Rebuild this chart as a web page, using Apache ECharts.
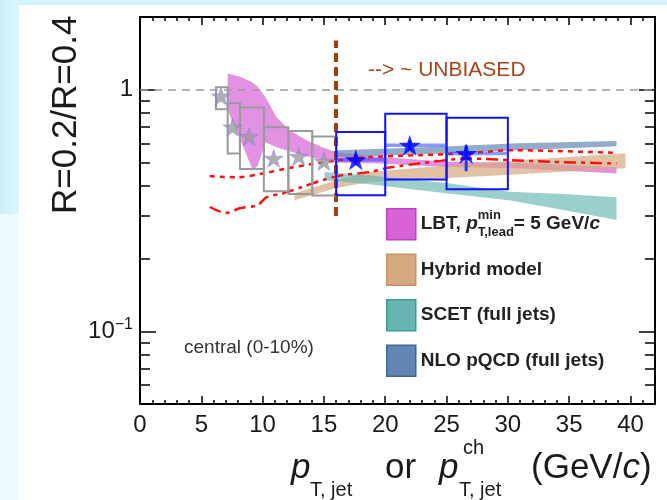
<!DOCTYPE html>
<html><head><meta charset="utf-8">
<script src="https://cdn.jsdelivr.net/npm/echarts@6/dist/echarts.min.js"></script>
<style>html,body{margin:0;padding:0;background:#fff}#c{width:667px;height:500px}</style>
</head><body><div id="c"></div>
<script>
const FONT = '"Liberation Sans", Arial, Helvetica, sans-serif';

// ---- axis ticks ----
const xMajor = [0, 5, 10, 15, 20, 25, 30, 35, 40];
const xMinor = [1,2,3,4,6,7,8,9,11,12,13,14,16,17,18,19,21,22,23,24,26,27,28,29,31,32,33,34,36,37,38,39,41];
const yMajor = [0.1, 1];
const yMinor = [0.06, 0.07, 0.08, 0.09, 0.2, 0.3, 0.4, 0.5, 0.6, 0.7, 0.8, 0.9];

// ---- model bands ----
const lbtX  = [7.15, 8.13, 9.19, 9.59, 10.24, 11.14, 12.2, 13.58, 14.88, 16.02, 19.51, 25.2, 30.89, 38.86];
const lbtLo = [0.822, 0.630, 0.465, 0.483, 0.606, 0.578, 0.556, 0.530, 0.511, 0.499, 0.495, 0.479, 0.473, 0.450];
const lbtHi = [1.167, 1.135, 1.072, 1.032, 0.930, 0.769, 0.679, 0.618, 0.578, 0.551, 0.527, 0.503, 0.497, 0.479];

const hybX  = [12.6, 16.02, 18.7, 25.2, 30.89, 39.59];
const hybLo = [0.349, 0.392, 0.415, 0.431, 0.447, 0.473];
const hybHi = [0.373, 0.422, 0.456, 0.487, 0.511, 0.546];

const scetX  = [15.04, 18.7, 24.96, 30.08, 34.55, 38.86];
const scetLo = [0.422, 0.406, 0.373, 0.349, 0.318, 0.289];
const scetHi = [0.456, 0.443, 0.411, 0.378, 0.370, 0.359];

const nloX  = [16.02, 18.7, 25.2, 30.89, 38.86];
const nloLo = [0.526, 0.530, 0.546, 0.562, 0.584];
const nloHi = [0.562, 0.567, 0.584, 0.600, 0.614];

// ---- red dashed curves ----
const redAX = [5.69, 7.89, 10.0, 11.95, 13.98, 16.26, 18.7, 22.76, 26.83, 30.33, 33.58, 36.34, 38.86];
const redAY = [0.439, 0.434, 0.450, 0.472, 0.492, 0.511, 0.526, 0.536, 0.546, 0.562, 0.558, 0.553, 0.548];
const redBX = [5.69, 6.99, 8.13, 9.59, 10.33, 11.63, 13.25, 14.88, 16.5, 18.7, 20.33, 22.76, 26.83, 30.33, 33.58, 38.86];
const redBY = [0.327, 0.309, 0.323, 0.333, 0.359, 0.372, 0.396, 0.422, 0.443, 0.456, 0.476, 0.495, 0.519, 0.511, 0.503, 0.495];

// ---- charged jets (grey) ----
const chX     = [6.6, 7.55, 8.9, 10.9, 12.95, 15.0];
const chY     = [0.94, 0.70, 0.64, 0.52, 0.53, 0.505];
const chX1    = [6.2, 7.15, 8.15, 10.1, 12.1, 14.05];
const chX2    = [7.15, 8.15, 10.1, 12.1, 14.05, 16.0];
const chSysLo = [0.83, 0.545, 0.47, 0.38, 0.37, 0.365];
const chSysHi = [1.025, 0.88, 0.845, 0.70, 0.675, 0.64];

// ---- full jets (blue) ----
const fjX      = [17.6, 22.0, 26.6];
const fjY      = [0.513, 0.589, 0.544];
const fjX1     = [16, 20, 25];
const fjX2     = [20, 25, 30];
const fjSysLo  = [0.366, 0.425, 0.387];
const fjSysHi  = [0.668, 0.796, 0.766];
const fjStatLo = [0.49, 0.565, 0.46];
const fjStatHi = [0.54, 0.615, 0.589];

const unbiasedX = 16;
const unbiasedRange = [0.3, 1.6];

const STAR = 'path://M50,0 L61.2,34.5 L97.6,34.5 L68.2,55.9 L79.4,90.5 L50,69.1 L20.6,90.5 L31.8,55.9 L2.4,34.5 L38.8,34.5 Z';

function band(name, xs, lo, hi, fill, z) {
  return {
    type: 'custom', name: name, z: z, silent: true, clip: true,
    data: xs.map((x, i) => [x, lo[i], hi[i]]),
    encode: { x: 0, y: [1, 2] },
    renderItem: function (params, api) {
      if (params.dataIndex !== 0) return;
      const pts = [];
      for (let i = 0; i < xs.length; i++) pts.push(api.coord([xs[i], hi[i]]));
      for (let i = xs.length - 1; i >= 0; i--) pts.push(api.coord([xs[i], lo[i]]));
      return { type: 'polygon', shape: { points: pts }, style: { fill: fill } };
    }
  };
}
function boxes(name, x1, x2, lo, hi, stroke, z) {
  return {
    type: 'custom', name: name, z: z, silent: true, clip: true,
    data: x1.map((v, i) => [v, x2[i], lo[i], hi[i]]),
    encode: { x: [0, 1], y: [2, 3] },
    renderItem: function (params, api) {
      const a = api.coord([api.value(0), api.value(3)]);
      const b = api.coord([api.value(1), api.value(2)]);
      return { type: 'rect', shape: { x: a[0], y: a[1], width: b[0] - a[0], height: b[1] - a[1] },
        style: { fill: 'none', stroke: stroke, lineWidth: 2 } };
    }
  };
}

const legendText = {
  'LBT': 'LBT, {it|p}{sup|min}{sub|T,lead}= 5 GeV/{it|c}',
  'Hybrid': 'Hybrid model',
  'SCET': 'SCET (full jets)',
  'NLO': 'NLO pQCD (full jets)'
};

const axisCommonX = { type: 'value', min: 0, max: 42, splitLine: { show: false } };
const axisCommonY = { type: 'log', logBase: 10, min: 0.05, max: 2, splitLine: { show: false } };
const black = { color: '#000', width: 1.5 };
const frameLine = { show: true, onZero: false, lineStyle: { color: '#000', width: 2 } };
const noLine = { show: false, onZero: false };

const option = {
  backgroundColor: '#ffffff',
  animation: false,
  grid: { left: 140, top: 17, width: 515, height: 387 },
  xAxis: [
    Object.assign({}, axisCommonX, { position: 'bottom', axisLine: frameLine,
      axisTick: { show: true, inside: true, length: 8, lineStyle: black, customValues: xMajor },
      axisLabel: { show: true, customValues: xMajor, fontSize: 24, margin: 9, color: '#1a1a1a', fontFamily: FONT } }),
    Object.assign({}, axisCommonX, { position: 'bottom', axisLine: noLine, axisLabel: { show: false },
      axisTick: { show: true, inside: true, length: 4, lineStyle: black, customValues: xMinor } }),
    Object.assign({}, axisCommonX, { position: 'top', axisLine: frameLine, axisLabel: { show: false },
      axisTick: { show: true, inside: true, length: 8, lineStyle: black, customValues: xMajor } }),
    Object.assign({}, axisCommonX, { position: 'top', axisLine: noLine, axisLabel: { show: false },
      axisTick: { show: true, inside: true, length: 4, lineStyle: black, customValues: xMinor } })
  ],
  yAxis: [
    Object.assign({}, axisCommonY, { position: 'left', axisLine: frameLine,
      axisTick: { show: true, inside: true, length: 16, lineStyle: black, customValues: yMajor },
      axisLabel: { show: true, customValues: yMajor, margin: 7, color: '#1a1a1a', fontFamily: FONT, fontSize: 24,
        formatter: function (v) { return v > 0.5 ? '{b|1}' : '{b|10}{s|\u22121}'; },
        rich: { b: { fontSize: 24, lineHeight: 30, fontFamily: FONT, color: '#1a1a1a' },
                s: { fontSize: 16, lineHeight: 16, verticalAlign: 'top', fontFamily: FONT, color: '#1a1a1a' } } } }),
    Object.assign({}, axisCommonY, { position: 'left', axisLine: noLine, axisLabel: { show: false },
      axisTick: { show: true, inside: true, length: 10, lineStyle: black, customValues: yMinor } }),
    Object.assign({}, axisCommonY, { position: 'right', axisLine: frameLine, axisLabel: { show: false },
      axisTick: { show: true, inside: true, length: 16, lineStyle: black, customValues: yMajor } }),
    Object.assign({}, axisCommonY, { position: 'right', axisLine: noLine, axisLabel: { show: false },
      axisTick: { show: true, inside: true, length: 10, lineStyle: black, customValues: yMinor } })
  ],
  legend: {
    left: 386, top: 208, orient: 'vertical', icon: 'rect', itemWidth: 29, itemHeight: 31, itemGap: 13,
    padding: 0, selectedMode: false,
    data: [
      { name: 'LBT', itemStyle: { color: '#d862d8', borderColor: '#c23fc6', borderWidth: 1.5 } },
      { name: 'Hybrid', itemStyle: { color: '#d6a880', borderColor: '#c8915f', borderWidth: 1.5 } },
      { name: 'SCET', itemStyle: { color: '#66b5b0', borderColor: '#3c9d97', borderWidth: 1.5 } },
      { name: 'NLO', itemStyle: { color: '#6286b3', borderColor: '#3f679c', borderWidth: 1.5 } }
    ],
    formatter: function (n) { return legendText[n]; },
    textStyle: { fontSize: 19, fontWeight: 'bold', color: '#222', fontFamily: FONT, lineHeight: 30,
      rich: {
        it: { fontSize: 19, fontWeight: 'bold', fontStyle: 'italic', lineHeight: 30, color: '#222', fontFamily: FONT },
        sup: { fontSize: 13, fontWeight: 'bold', lineHeight: 15, verticalAlign: 'top', width: 0, color: '#222', fontFamily: FONT },
        sub: { fontSize: 13, fontWeight: 'bold', lineHeight: 13, verticalAlign: 'bottom', color: '#222', fontFamily: FONT }
      } }
  },
  graphic: [
    { type: 'rect', z: -100, silent: true, shape: { x: 0, y: 0, width: 667, height: 5 }, style: { fill: '#d3f2fa' } },
    { type: 'rect', z: -100, silent: true, shape: { x: 0, y: 0, width: 19, height: 214 },
      style: { fill: { type: 'linear', x: 0, y: 0, x2: 1, y2: 0, colorStops: [
        { offset: 0, color: '#cdeff8' }, { offset: 1, color: '#dcf5fb' }] } } },
    { type: 'rect', z: -100, silent: true, shape: { x: 0, y: 214, width: 19, height: 286 }, style: { fill: '#eefafd' } },
    { type: 'text', x: 66, y: 214, rotation: Math.PI / 2,
      style: { text: 'R=0.2/R=0.4', font: '35px ' + FONT, fill: '#1a1a1a', align: 'left', verticalAlign: 'middle' } },
    { type: 'text', x: 368, y: 70,
      style: { text: '--> ~ UNBIASED', font: '21px ' + FONT, fill: '#a8441c', align: 'left', verticalAlign: 'middle' } },
    { type: 'text', x: 184, y: 348,
      style: { text: 'central (0-10%)', font: '19px ' + FONT, fill: '#333', align: 'left', verticalAlign: 'middle' } },
    { type: 'text', x: 291, y: 468, style: { text: 'p', font: 'italic 35px ' + FONT, fill: '#1a1a1a', verticalAlign: 'middle' } },
    { type: 'text', x: 310, y: 490, style: { text: 'T, jet', font: '20px ' + FONT, fill: '#1a1a1a', verticalAlign: 'middle' } },
    { type: 'text', x: 385, y: 468, style: { text: 'or', font: '35px ' + FONT, fill: '#1a1a1a', verticalAlign: 'middle' } },
    { type: 'text', x: 439, y: 468, style: { text: 'p', font: 'italic 35px ' + FONT, fill: '#1a1a1a', verticalAlign: 'middle' } },
    { type: 'text', x: 463, y: 448, style: { text: 'ch', font: '20px ' + FONT, fill: '#1a1a1a', verticalAlign: 'middle' } },
    { type: 'text', x: 459, y: 490, style: { text: 'T, jet', font: '20px ' + FONT, fill: '#1a1a1a', verticalAlign: 'middle' } },
    { type: 'text', x: 531, y: 468, style: { text: '(GeV/{i|c})', font: '35px ' + FONT, fill: '#1a1a1a', verticalAlign: 'middle',
        rich: { i: { fontStyle: 'italic', fontSize: 35, fontFamily: FONT, fill: '#1a1a1a' } } } }
  ],
  series: [
    band('LBT', lbtX, lbtLo, lbtHi, 'rgba(213,95,213,0.68)', 1),
    band('Hybrid', hybX, hybLo, hybHi, 'rgba(214,168,128,0.7)', 2),
    band('SCET', scetX, scetLo, scetHi, 'rgba(102,181,176,0.65)', 2),
    band('NLO', nloX, nloLo, nloHi, 'rgba(100,135,180,0.7)', 2),
    { type: 'line', name: 'ref', data: [], z: 3, silent: true,
      markLine: { silent: true, symbol: 'none', label: { show: false },
        lineStyle: { color: '#9a9a9a', width: 1.5, type: [8, 6] },
        data: [{ yAxis: 1 }] } },
    { type: 'line', name: 'redA', z: 4, silent: true, smooth: 0.3, showSymbol: false,
      data: redAX.map((x, i) => [x, redAY[i]]),
      lineStyle: { color: '#ff1010', width: 2.5, type: [5, 5] } },
    { type: 'line', name: 'redB', z: 4, silent: true, smooth: 0.3, showSymbol: false,
      data: redBX.map((x, i) => [x, redBY[i]]),
      lineStyle: { color: '#ff1010', width: 2.5, type: [12, 5, 4, 5] } },
    boxes('chSys', chX1, chX2, chSysLo, chSysHi, '#9a9a9a', 5),
    boxes('fjSys', fjX1, fjX2, fjSysLo, fjSysHi, '#1212ff', 5),
    { type: 'custom', name: 'fjStat', z: 6, silent: true,
      data: fjX.map((x, i) => [x, fjStatLo[i], fjStatHi[i], fjX1[i], fjX2[i], fjY[i]]),
      encode: { x: 0, y: [1, 2] },
      renderItem: function (params, api) {
        const a = api.coord([api.value(0), api.value(1)]);
        const b = api.coord([api.value(0), api.value(2)]);
        const l = api.coord([api.value(3), api.value(5)]);
        const r = api.coord([api.value(4), api.value(5)]);
        return { type: 'group', children: [
          { type: 'line', shape: { x1: l[0], y1: l[1], x2: r[0], y2: r[1] }, style: { stroke: 'rgba(40,70,255,0.55)', lineWidth: 3.5 } },
          { type: 'line', shape: { x1: a[0], y1: a[1], x2: b[0], y2: b[1] }, style: { stroke: '#1a3cff', lineWidth: 3 } }
        ] };
      } },
    { type: 'scatter', name: 'charged', z: 7, silent: true, symbol: STAR, symbolSize: 19, symbolKeepAspect: true,
      data: chX.map((x, i) => [x, chY[i]]),
      itemStyle: { color: '#9b9b9b', borderColor: 'rgba(120,120,230,0.55)', borderWidth: 1 } },
    { type: 'scatter', name: 'full', z: 7, silent: true, symbol: STAR, symbolSize: 22, symbolKeepAspect: true,
      data: fjX.map((x, i) => [x, fjY[i]]),
      itemStyle: { color: '#0000ff' } },
    { type: 'line', name: 'unbiased', data: [], z: 8, silent: true,
      markLine: { silent: true, symbol: 'none', label: { show: false },
        lineStyle: { color: '#a33d0b', width: 4, type: [9, 5] },
        data: [[{ coord: [unbiasedX, unbiasedRange[0]] }, { coord: [unbiasedX, unbiasedRange[1]] }]] } }
  ]
};
const chart = echarts.init(document.getElementById('c'));
chart.setOption(option);
</script></body></html>
